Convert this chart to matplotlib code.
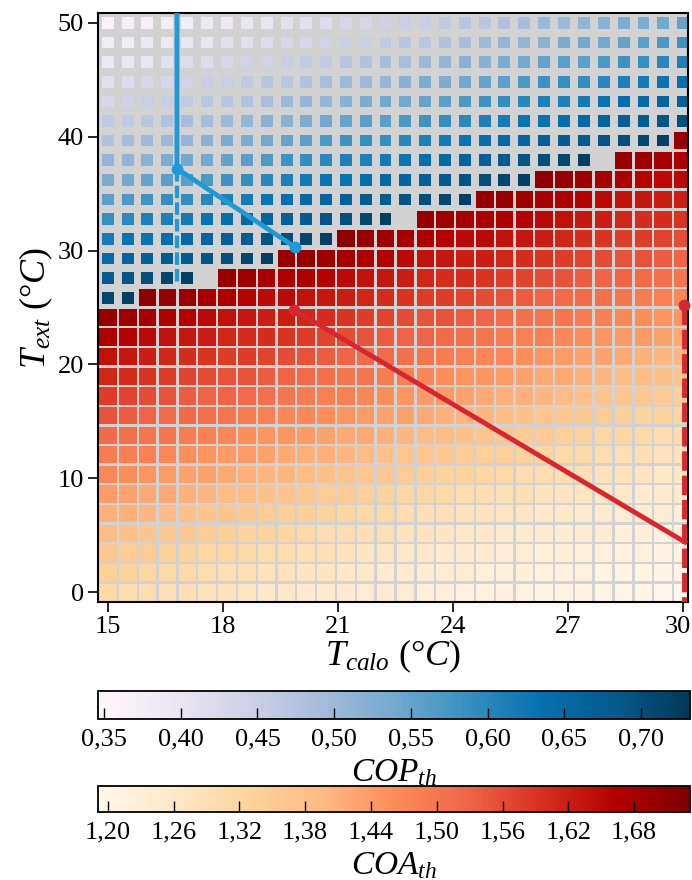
import numpy as np
import matplotlib.pyplot as plt
from matplotlib.patches import Rectangle
from matplotlib.collections import PatchCollection
from matplotlib.colors import Normalize
from matplotlib.cm import ScalarMappable
from matplotlib.ticker import FuncFormatter
from matplotlib.transforms import ScaledTranslation

plt.rcParams['font.family'] = ['Liberation Serif', 'DejaVu Serif']
plt.rcParams['mathtext.fontset'] = 'custom'
plt.rcParams['mathtext.rm'] = 'Liberation Serif'
plt.rcParams['mathtext.it'] = 'Liberation Serif:italic'

# grid axes (deg C)
t_calo = [15.00, 15.52, 16.03, 16.55, 17.07, 17.59, 18.10, 18.62, 19.14, 19.66,
          20.17, 20.69, 21.21, 21.72, 22.24, 22.76, 23.28, 23.79, 24.31, 24.83,
          25.34, 25.86, 26.38, 26.90, 27.41, 27.93, 28.45, 28.97, 29.48, 30.00]
t_ext = [0.00, 1.72, 3.45, 5.17, 6.90, 8.62, 10.34, 12.07, 13.79, 15.52,
         17.24, 18.97, 20.69, 22.41, 24.14, 25.86, 27.59, 29.31, 31.03, 32.76,
         34.48, 36.21, 37.93, 39.66, 41.38, 43.10, 44.83, 46.55, 48.28, 50.00]

# COA_th x100, one list per T_ext row, values fill the LAST columns of the row
coa_rows = [
    [131,130,130,129,129,128,128,127,126,126,125,125,125,124,124,124,123,123,122,122,122,121,121,121,121,120,120,120,119,119],
    [134,133,132,131,131,130,129,129,128,128,127,127,126,126,125,125,124,124,124,123,123,123,122,122,122,121,121,121,120,120],
    [136,135,135,134,133,132,132,131,130,130,129,129,128,127,127,126,126,125,125,125,124,124,123,123,123,122,122,122,121,121],
    [139,138,137,136,136,135,134,133,133,132,131,130,130,129,129,128,128,127,126,126,125,125,125,124,124,124,123,123,122,122],
    [141,141,140,139,138,137,137,136,135,134,134,133,132,131,131,130,129,129,128,128,127,127,126,126,125,125,124,124,124,123],
    [144,143,142,142,141,140,139,139,138,137,136,135,135,134,133,132,132,131,130,130,129,129,128,127,127,126,126,125,125,125],
    [147,146,145,144,143,143,142,141,140,140,139,138,137,136,136,135,134,133,133,132,131,130,130,129,129,128,128,127,126,126],
    [149,148,148,147,146,145,144,144,143,142,141,141,140,139,138,137,137,136,135,134,134,133,132,131,131,130,129,129,128,128],
    [152,151,150,150,149,148,147,146,145,145,144,143,142,142,141,140,139,139,138,137,136,135,135,134,133,132,132,131,130,130],
    [155,154,153,152,152,151,150,149,148,147,147,146,145,144,143,143,142,141,140,140,139,138,137,136,136,135,134,133,133,132],
    [158,157,156,155,154,153,153,152,151,150,149,148,148,147,146,145,144,144,143,142,141,141,140,139,138,137,137,136,135,134],
    [161,160,159,158,157,156,155,155,154,153,152,151,150,150,149,148,147,146,145,145,144,143,142,142,141,140,139,139,138,137],
    [164,163,162,161,160,159,158,158,157,156,155,154,153,152,152,151,150,149,148,147,147,146,145,144,143,143,142,141,140,140],
    [167,166,165,164,163,162,161,160,160,159,158,157,156,155,154,153,153,152,151,150,149,148,148,147,146,145,144,144,143,142],
    [170,169,168,167,166,165,164,163,162,162,161,160,159,158,157,156,155,155,154,153,152,151,150,150,149,148,147,146,145,145],
    [171,170,169,168,167,166,165,165,164,163,162,161,160,159,158,158,157,156,155,154,153,152,152,151,150,149,148,147],
    [170,169,168,167,167,166,165,164,163,162,161,160,160,159,158,157,156,155,154,153,153,152,151,150],
    [170,170,169,168,167,166,165,164,163,162,162,161,160,159,158,157,156,155,155,154,153],
    [171,170,169,168,167,166,165,165,164,163,162,161,160,159,158,158,157,156],
    [170,169,168,167,167,166,165,164,163,162,161,160,160,159],
    [170,170,169,168,167,166,165,164,163,162,162],
    [171,170,169,168,167,166,165,165],
    [170,169,168,167],
    [170],
    [], [], [], [], [], [],
]

# COP_th x100, one list per T_ext row, values fill the FIRST columns of the row
cop_rows = [
    [], [], [], [], [], [], [], [], [], [], [], [], [], [], [],
    [71,72],
    [68,69,70,71,72],
    [65,66,67,68,68,69,70,71,72],
    [62,63,63,64,65,66,67,68,69,70,71,72],
    [59,60,61,61,62,63,64,65,66,67,68,69,70,71,72],
    [56,57,58,59,59,60,61,62,63,64,65,66,67,68,68,69,70,71,72],
    [53,54,55,56,56,57,58,59,60,61,62,63,63,64,65,66,67,68,69,70,71,72],
    [51,51,52,53,54,54,55,56,57,58,59,60,61,61,62,63,64,65,66,67,68,69,70,71,72],
    [48,49,50,50,51,52,53,53,54,55,56,57,58,59,59,60,61,62,63,64,65,66,67,68,68,69,70,71,72],
    [46,46,47,48,49,49,50,51,52,52,53,54,55,56,56,57,58,59,60,61,62,63,63,64,65,66,67,68,69,70],
    [43,44,45,45,46,47,47,48,49,50,51,51,52,53,54,54,55,56,57,58,59,60,61,61,62,63,64,65,66,67],
    [41,42,43,43,44,45,45,46,47,47,48,49,50,50,51,52,53,53,54,55,56,57,58,59,59,60,61,62,63,64],
    [39,40,40,41,42,42,43,44,44,45,46,46,47,48,49,49,50,51,52,52,53,54,55,56,56,57,58,59,60,61],
    [38,38,39,39,40,40,41,41,42,43,43,44,45,45,46,47,47,48,49,50,51,51,52,53,54,54,55,56,57,58],
    [36,37,37,38,38,39,39,40,40,41,41,42,43,43,44,45,45,46,47,47,48,49,50,50,51,52,53,53,54,55],
]

# operating lines
blue_T = [16.80, 16.80, 19.88]
blue_E = [51.0, 37.2, 30.3]
blue_dash_T = [16.80, 16.80]
blue_dash_E = [37.2, 27.2]
red_T = [19.85, 30.05]
red_E = [24.8, 4.4]
red_v_T = [30.02, 30.02]
red_v_E = [25.2, -1.0]

cop_ticks = [0.35, 0.40, 0.45, 0.50, 0.55, 0.60, 0.65, 0.70]
coa_ticks = [1.20, 1.26, 1.32, 1.38, 1.44, 1.50, 1.56, 1.62, 1.68]

norm_cop = Normalize(0.346, 0.732)
norm_coa = Normalize(1.191, 1.731)

fig = plt.figure(figsize=(6.92, 8.8), dpi=100)
ax = fig.add_axes([0.1416, 0.3159, 0.8526, 0.6693])
ax.set_facecolor('#d2d2d2')

dx = t_calo[1] - t_calo[0]
dy = t_ext[1] - t_ext[0]
n = len(t_calo)

# COA cells (nearly full)
s = 0.88
patches, vals = [], []
for j, row in enumerate(coa_rows):
    for m, v in enumerate(row):
        i = n - len(row) + m
        patches.append(Rectangle((t_calo[i] - s*dx/2, t_ext[j] - s*dy/2), s*dx, s*dy))
        vals.append(v / 100)
pc = PatchCollection(patches, cmap='OrRd', norm=norm_coa, edgecolor='none')
pc.set_array(np.array(vals))
ax.add_collection(pc)

# COP cells (small squares)
s = 0.6
patches, vals = [], []
for j, row in enumerate(cop_rows):
    for i, v in enumerate(row):
        patches.append(Rectangle((t_calo[i] - s*dx/2, t_ext[j] - s*dy/2), s*dx, s*dy))
        vals.append(v / 100)
pc = PatchCollection(patches, cmap='PuBu', norm=norm_cop, edgecolor='none')
pc.set_array(np.array(vals))
ax.add_collection(pc)

blue = '#1f9ad6'
red = '#d8262e'
ax.plot(blue_dash_T, blue_dash_E, color=blue, lw=3, ls=(0, (3, 1)), zorder=3)
ax.plot(blue_T, blue_E, color=blue, lw=3.5, zorder=4)
ax.plot(blue_T[1:], blue_E[1:], 'o', color=blue, ms=7.5, zorder=5)
ax.plot(red_v_T, red_v_E, color=red, lw=3.5, ls=(0, (4, 1)), zorder=3)
ax.plot(red_T, red_E, color=red, lw=3.5, zorder=4)
ax.plot([red_T[0], red_v_T[0]], [red_E[0], red_v_E[0]], 'o', color=red, ms=7.5, zorder=5, clip_on=False)

ax.set_xlim(14.74, 30.13)
ax.set_ylim(-0.86, 50.86)
ax.set_xticks([15, 18, 21, 24, 27, 30])
ax.set_yticks([0, 10, 20, 30, 40, 50])
ax.tick_params(labelsize=19, length=7, width=1.2, direction='out', pad=3)
for sp in ax.spines.values():
    sp.set_linewidth(1.5)
# keep the last x label inside the figure
ax.get_xticklabels()[-1].set_transform(ax.get_xticklabels()[-1].get_transform()
                                       + ScaledTranslation(-5/100, 0, fig.dpi_scale_trans))
ax.set_xlabel(r'$T_{calo}\ (°C)$', fontsize=26, labelpad=0)
ax.set_ylabel(r'$T_{ext}\ (°C)$', fontsize=26, labelpad=2)

fmt = FuncFormatter(lambda v, p: f'{v:.2f}'.replace('.', ','))

cax1 = fig.add_axes([0.1416, 0.183, 0.8555, 0.032])
cb1 = fig.colorbar(ScalarMappable(norm_cop, 'PuBu'), cax=cax1, orientation='horizontal')
cb1.set_ticks(cop_ticks)
cb1.ax.xaxis.set_major_formatter(fmt)
cb1.ax.tick_params(direction='in', length=8, width=1, labelsize=19, pad=7)
cb1.outline.set_linewidth(1.3)
cb1.set_label(r'$COP_{th}$', fontsize=24, labelpad=5)

cax2 = fig.add_axes([0.1416, 0.0773, 0.8555, 0.030])
cb2 = fig.colorbar(ScalarMappable(norm_coa, 'OrRd'), cax=cax2, orientation='horizontal')
cb2.set_ticks(coa_ticks)
cb2.ax.xaxis.set_major_formatter(fmt)
cb2.ax.tick_params(direction='in', length=8, width=1, labelsize=19, pad=7)
cb2.outline.set_linewidth(1.3)
cb2.set_label(r'$COA_{th}$', fontsize=24, labelpad=5)

fig.savefig('out.png', dpi=100)
